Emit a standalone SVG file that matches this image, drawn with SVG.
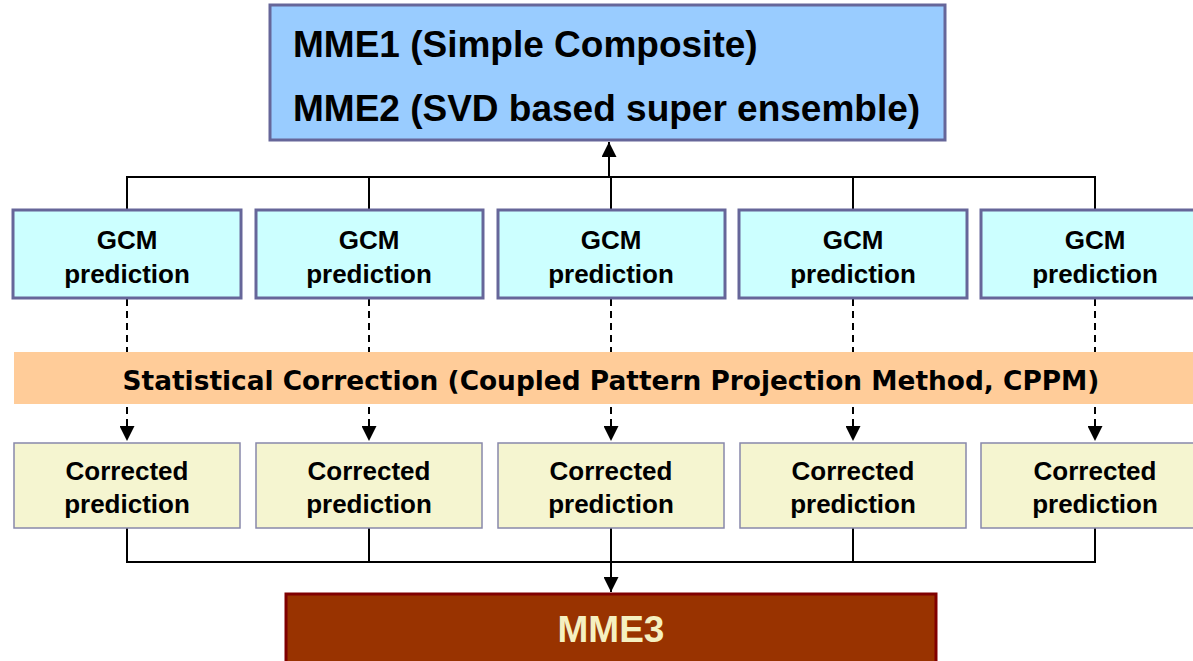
<svg xmlns="http://www.w3.org/2000/svg" width="1193" height="661" viewBox="0 0 1193 661">
<style>
.t{font-family:"Liberation Sans",Arial,sans-serif;font-weight:bold;fill:#000;text-anchor:middle}
.gcm{fill:#CCFFFF;stroke:#666699;stroke-width:3}
.cor{fill:#F5F5D0;stroke:#8888AA;stroke-width:1.5}
.ln{stroke:#000;stroke-width:2;fill:none}
.dash{stroke:#000;stroke-width:2;fill:none;stroke-dasharray:7 5}
</style>
<defs>
<marker id="ah" markerUnits="userSpaceOnUse" markerWidth="15" markerHeight="15" refX="15" refY="7.5" orient="auto">
<path d="M0,0 L15,7.5 L0,15 z" fill="#000"/>
</marker>
</defs>
<rect width="1193" height="661" fill="#fff"/>
<g id="connectors">
<path class="ln" d="M127,210 V177 H1095 V210 M369,210 V177 M853,210 V177 M611,210 V177"/>
<path class="ln" d="M609,177 V142" marker-end="url(#ah)"/>
<path class="dash" d="M127,299 V441" marker-end="url(#ah)"/>
<path class="dash" d="M369,299 V441" marker-end="url(#ah)"/>
<path class="dash" d="M611,299 V441" marker-end="url(#ah)"/>
<path class="dash" d="M853,299 V441" marker-end="url(#ah)"/>
<path class="dash" d="M1095,299 V441" marker-end="url(#ah)"/>
<path class="ln" d="M127,528 V562 H1095 V528 M369,528 V562 M853,528 V562"/>
<path class="ln" d="M611,528 V592" marker-end="url(#ah)"/>
</g>
<g id="mme12">
<rect x="270" y="5" width="675" height="135" fill="#99CCFF" stroke="#666699" stroke-width="3"/>
<text class="t" x="293" y="57" font-size="37" style="text-anchor:start">MME1 (Simple Composite)</text>
<text class="t" x="293" y="121" font-size="37" style="text-anchor:start">MME2 (SVD based super ensemble)</text>
</g>
<g id="gcm1"><rect class="gcm" x="13" y="210" width="228" height="88"/><text class="t" x="127" y="249" font-size="26">GCM</text><text class="t" x="127" y="283" font-size="26">prediction</text></g>
<g id="gcm2"><rect class="gcm" x="256" y="210" width="227" height="88"/><text class="t" x="369" y="249" font-size="26">GCM</text><text class="t" x="369" y="283" font-size="26">prediction</text></g>
<g id="gcm3"><rect class="gcm" x="498" y="210" width="227" height="88"/><text class="t" x="611" y="249" font-size="26">GCM</text><text class="t" x="611" y="283" font-size="26">prediction</text></g>
<g id="gcm4"><rect class="gcm" x="739" y="210" width="228" height="88"/><text class="t" x="853" y="249" font-size="26">GCM</text><text class="t" x="853" y="283" font-size="26">prediction</text></g>
<g id="gcm5"><rect class="gcm" x="981" y="210" width="228" height="88"/><text class="t" x="1095" y="249" font-size="26">GCM</text><text class="t" x="1095" y="283" font-size="26">prediction</text></g>
<g id="correction">
<rect x="14" y="352" width="1179" height="52" fill="#FFCC99"/>
<text x="611" y="390" font-family="'DejaVu Sans',Verdana,sans-serif" font-weight="bold" font-size="26.4" text-anchor="middle" fill="#000">Statistical Correction (Coupled Pattern Projection Method, CPPM)</text>
</g>
<g id="cor1"><rect class="cor" x="14" y="443" width="226" height="85"/><text class="t" x="127" y="480" font-size="26">Corrected</text><text class="t" x="127" y="513" font-size="26">prediction</text></g>
<g id="cor2"><rect class="cor" x="256" y="443" width="226" height="85"/><text class="t" x="369" y="480" font-size="26">Corrected</text><text class="t" x="369" y="513" font-size="26">prediction</text></g>
<g id="cor3"><rect class="cor" x="498" y="443" width="226" height="85"/><text class="t" x="611" y="480" font-size="26">Corrected</text><text class="t" x="611" y="513" font-size="26">prediction</text></g>
<g id="cor4"><rect class="cor" x="740" y="443" width="226" height="85"/><text class="t" x="853" y="480" font-size="26">Corrected</text><text class="t" x="853" y="513" font-size="26">prediction</text></g>
<g id="cor5"><rect class="cor" x="981" y="443" width="226" height="85"/><text class="t" x="1095" y="480" font-size="26">Corrected</text><text class="t" x="1095" y="513" font-size="26">prediction</text></g>
<g id="mme3">
<rect x="286" y="594" width="650" height="80" fill="#993300" stroke="#800000" stroke-width="3"/>
<text class="t" x="611" y="642" font-size="37" style="fill:#F5F0C0">MME3</text>
</g>
</svg>
